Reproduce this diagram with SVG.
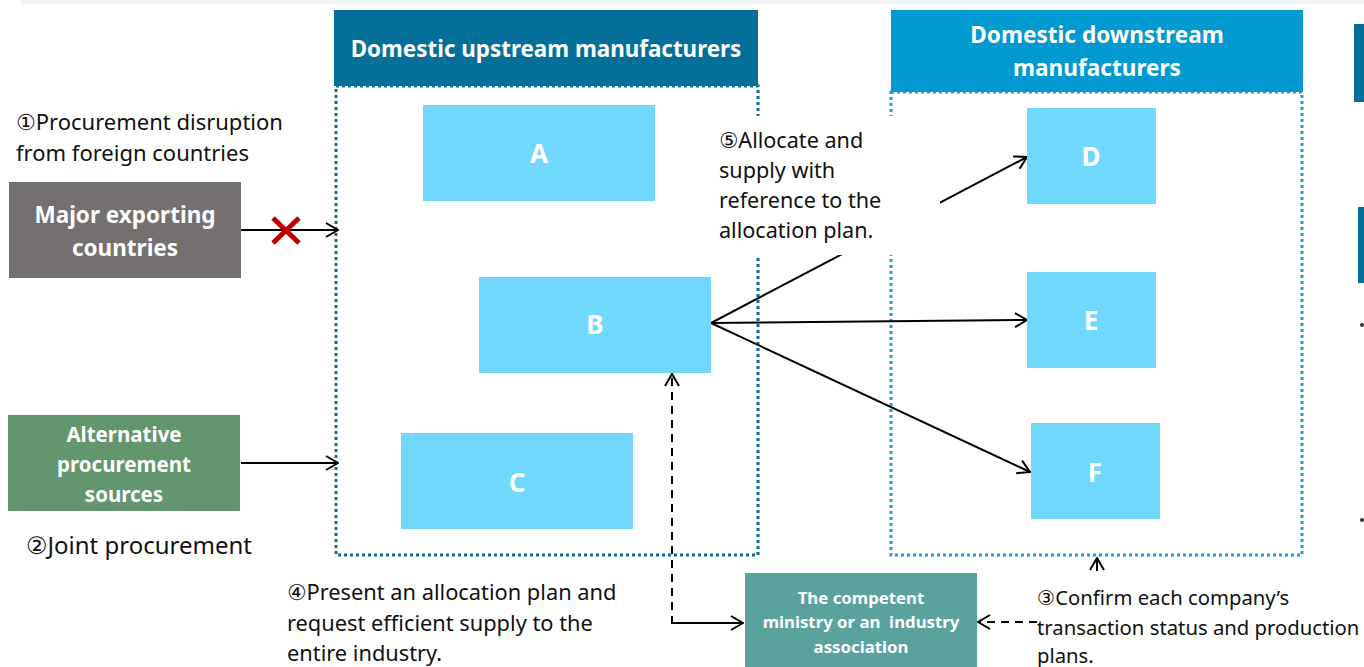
<svg xmlns="http://www.w3.org/2000/svg" width="1364" height="667" viewBox="0 0 1364 667">
<defs>
<style>
.t{font-family:"Noto Sans","Noto Sans CJK JP",sans-serif;fill:#111;font-size:21px}
.c{font-family:"DejaVu Sans",sans-serif}
.w{font-family:"Noto Sans","Noto Sans CJK JP",sans-serif;fill:#fff;font-weight:bold;text-anchor:middle}
.box{fill:#70d8fc}
.ln{stroke:#000;stroke-width:2;fill:none}
.dl{stroke:#000;stroke-width:2;fill:none;stroke-dasharray:8 6}
.dotU{fill:none;stroke:#0b6e93;stroke-width:3;stroke-dasharray:3 3}
.dotD{fill:none;stroke:#1a9fd6;stroke-width:3;stroke-dasharray:3 3}
</style>
<marker id="ah" viewBox="0 0 14 16" refX="13" refY="8" markerWidth="14" markerHeight="16" markerUnits="userSpaceOnUse" orient="auto">
<path d="M1,1 L13,8 L1,15" fill="none" stroke="#000" stroke-width="2"/>
</marker>
</defs>
<rect x="21" y="0" width="1343" height="4" fill="#eef2f4"/>
<g id="upstream">
<rect x="336" y="86" width="422" height="469" class="dotU"/>
<rect x="334" y="10" width="424" height="76" fill="#04709a"/>
<text x="546" y="57" class="w" font-size="22.4">Domestic upstream manufacturers</text>
</g>
<g id="downstream">
<rect x="891" y="92" width="411" height="463" class="dotD"/>
<rect x="891" y="10" width="412" height="82" fill="#0099d0"/>
<text x="1097" y="43" class="w" font-size="22.6">Domestic downstream</text>
<text x="1097" y="76" class="w" font-size="22.6">manufacturers</text>
</g>
<g id="connectors">
<line x1="241" y1="230" x2="338" y2="230" class="ln" marker-end="url(#ah)"/>
<line x1="241" y1="463" x2="338" y2="463" class="ln" marker-end="url(#ah)"/>
<line x1="711" y1="323" x2="1027" y2="157" class="ln" marker-end="url(#ah)"/>
<line x1="711" y1="323" x2="1027" y2="320" class="ln" marker-end="url(#ah)"/>
<line x1="711" y1="323" x2="1030" y2="472" class="ln" marker-end="url(#ah)"/>
<path d="M743,623 L672,623 L672,374" class="dl" marker-end="url(#ah)"/>
<path d="M672,623 L743,623" class="dl" marker-end="url(#ah)"/>
<line x1="1037" y1="622" x2="978" y2="622" class="dl" marker-end="url(#ah)"/>
<line x1="1097" y1="571" x2="1097" y2="558" class="ln" marker-end="url(#ah)"/>
<path d="M273,218 L299,243 M299,218 L273,243" stroke="#c00000" stroke-width="5" fill="none"/>
</g>
<g id="label5">
<rect x="705" y="116" width="235" height="139" fill="#fff"/>
<text class="t" style="font-size:21.6px"><tspan x="719" y="148"><tspan class="c">⑤</tspan>Allocate and</tspan><tspan x="719" y="178">supply with</tspan><tspan x="719" y="208">reference to the</tspan><tspan x="719" y="238">allocation plan.</tspan></text>
</g>
<g id="A"><rect x="423" y="105" width="232" height="96" class="box"/><text x="539" y="163" class="w" font-size="26">A</text></g>
<g id="B"><rect x="479" y="277" width="232" height="96" class="box"/><text x="595" y="334" class="w" font-size="26">B</text></g>
<g id="C"><rect x="401" y="433" width="232" height="96" class="box"/><text x="517" y="492" class="w" font-size="26">C</text></g>
<g id="D"><rect x="1027" y="108" width="129" height="96" class="box"/><text x="1091" y="166" class="w" font-size="26">D</text></g>
<g id="E"><rect x="1027" y="272" width="129" height="96" class="box"/><text x="1091" y="330" class="w" font-size="26">E</text></g>
<g id="F"><rect x="1031" y="423" width="129" height="96" class="box"/><text x="1095" y="482" class="w" font-size="26">F</text></g>
<g id="major">
<rect x="9" y="182" width="232" height="96" fill="#757070"/>
<text x="125" y="223" class="w" font-size="22.5">Major exporting</text>
<text x="125" y="256" class="w" font-size="22.5">countries</text>
</g>
<g id="alternative">
<rect x="8" y="415" width="232" height="96" fill="#63956f"/>
<text x="124" y="442" class="w" font-size="20.5">Alternative</text>
<text x="124" y="472" class="w" font-size="20.5">procurement</text>
<text x="124" y="502" class="w" font-size="20.5">sources</text>
</g>
<g id="ministry">
<rect x="745" y="573" width="232" height="94" fill="#5ba19e"/>
<text x="861" y="604" class="w" font-size="16.8">The competent</text>
<text x="861" y="628" class="w" font-size="16.8" xml:space="preserve">ministry or an  industry</text>
<text x="861" y="653" class="w" font-size="16.8">association</text>
</g>
<g id="labels">
<text class="t" style="font-size:22px"><tspan x="16" y="130"><tspan class="c">①</tspan>Procurement disruption</tspan><tspan x="16" y="161">from foreign countries</tspan></text>
<text class="t" style="font-size:24px"><tspan x="26" y="554"><tspan class="c">②</tspan>Joint procurement</tspan></text>
<text class="t" style="font-size:21.8px"><tspan x="287" y="600"><tspan class="c">④</tspan>Present an allocation plan and</tspan><tspan x="287" y="631">request efficient supply to the</tspan><tspan x="287" y="661">entire industry.</tspan></text>
<text class="t" style="font-size:20.3px"><tspan x="1037" y="605"><tspan class="c">③</tspan>Confirm each company’s</tspan><tspan x="1037" y="635">transaction status and production</tspan><tspan x="1037" y="663">plans.</tspan></text>
</g>
<g id="rightedge">
<rect x="1354" y="24" width="10" height="78" fill="#04709a"/>
<rect x="1358" y="207" width="6" height="76" fill="#04709a"/>
<circle cx="1362" cy="325" r="2" fill="#333"/>
<circle cx="1362" cy="520" r="2" fill="#333"/>
</g>
</svg>
